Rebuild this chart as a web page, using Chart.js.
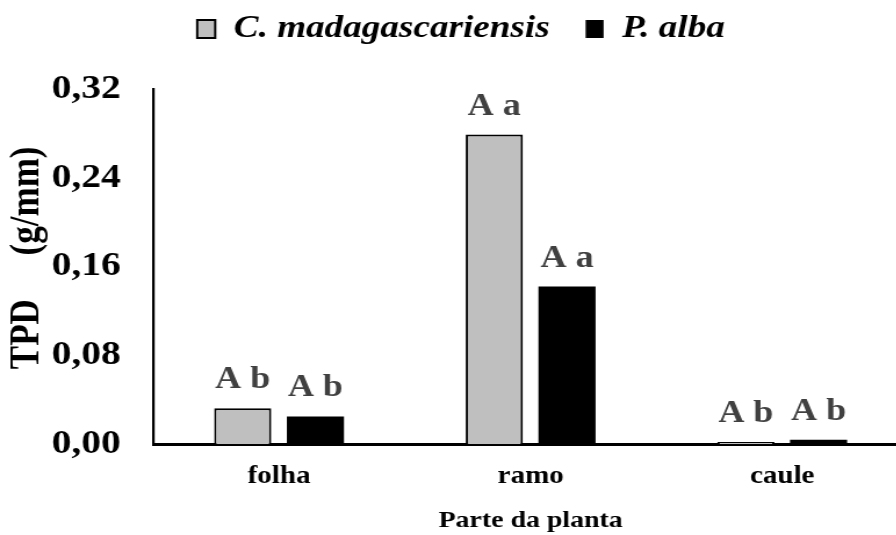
<!DOCTYPE html>
<html>
<head>
<meta charset="utf-8">
<script src="https://cdn.jsdelivr.net/npm/chart.js@4/dist/chart.umd.min.js"></script>
<style>
  html, body { margin: 0; padding: 0; background: #ffffff; overflow: hidden; }
  #wrap { width: 896px; height: 535px; overflow: hidden; position: relative; }
  #c { display: block; width: 907.6px; height: 535px; }
</style>
</head>
<body>
<div id="wrap"><canvas id="c" width="782" height="535" style="width:907.6px;height:535px;"></canvas></div>
<script>
const categories = ['folha', 'ramo', 'caule'];
const seriesNames = ['C. madagascariensis', 'P. alba'];
const valuesC = [0.0325, 0.279, 0.002];
const valuesP = [0.025, 0.142, 0.004];
const lettersC = ['A b', 'A a', 'A b'];
const lettersP = ['A b', 'A a', 'A b'];
const yTicks = [0, 0.08, 0.16, 0.24, 0.32];
const yTitle = '  TPD     (g/mm)';
const xTitle = 'Parte da planta';

const serif = "'Liberation Serif', 'Times New Roman', serif";

const letterPlugin = {
  id: 'letters',
  afterDatasetsDraw(chart) {
    const ctx = chart.ctx;
    const sets = [lettersC, lettersP];
    ctx.save();
    ctx.font = 'bold 31px ' + serif;
    ctx.fillStyle = '#404040';
    ctx.textAlign = 'center';
    ctx.textBaseline = 'alphabetic';
    chart.data.datasets.forEach((ds, di) => {
      const meta = chart.getDatasetMeta(di);
      meta.data.forEach((bar, i) => {
        ctx.fillText(sets[di][i], bar.x, bar.y - 20);
      });
    });
    ctx.restore();
  }
};

const legendSpace = {
  id: 'legendSpace',
  beforeLayout(chart) {
    const lg = chart.legend;
    if (lg && !lg._spacePatched) {
      const orig = lg.fit.bind(lg);
      lg.fit = function () { orig(); this.height += 34; };
      lg._spacePatched = true;
    }
  }
};

new Chart(document.getElementById('c'), {
  type: 'bar',
  data: {
    labels: categories,
    datasets: [
      {
        label: seriesNames[0],
        data: valuesC,
        backgroundColor: '#bfbfbf',
        borderColor: '#000000',
        borderWidth: 2,
        categoryPercentage: 0.578,
        barPercentage: 0.786
      },
      {
        label: seriesNames[1],
        data: valuesP,
        backgroundColor: '#000000',
        borderColor: '#000000',
        borderWidth: 0,
        categoryPercentage: 0.578,
        barPercentage: 0.786
      }
    ]
  },
  options: {
    responsive: false,
    maintainAspectRatio: false,
    animation: false,
    layout: { padding: { left: 12, right: 0, top: -18, bottom: 0 } },
    plugins: {
      legend: {
        display: true,
        position: 'top',
        labels: {
          boxWidth: 15.5,
          boxHeight: 18,
          padding: 31,
          color: '#000000',
          font: { family: serif, size: 32, style: 'italic', weight: 'bold' }
        }
      },
      tooltip: { enabled: false }
    },
    scales: {
      x: {
        grid: { display: false, drawTicks: false },
        border: { display: true, color: '#000000', width: 3 },
        ticks: {
          color: '#000000',
          padding: 20,
          font: { family: serif, size: 25, weight: 'bold', lineHeight: 1.0 }
        },
        title: {
          display: true,
          text: xTitle,
          color: '#000000',
          padding: { top: 0, bottom: 1.8 },
          font: { family: serif, size: 24, weight: 'bold', lineHeight: 1.0 }
        }
      },
      y: {
        min: 0,
        max: 0.32,
        afterFit(scale) { scale.width = 120; },
        afterBuildTicks(scale) { scale.ticks = yTicks.map(v => ({ value: v })); },
        grid: { display: false, drawTicks: false },
        border: { display: true, color: '#000000', width: 2.2 },
        ticks: {
          color: '#000000',
          padding: 28,
          font: { family: serif, size: 34, weight: 'bold' },
          callback: (v) => Number(v).toFixed(2).replace('.', ',')
        },
        title: {
          display: true,
          text: yTitle,
          color: '#000000',
          padding: { top: 3, bottom: 0 },
          font: { family: serif, size: 35, weight: 'bold', lineHeight: 0.5 }
        }
      }
    }
  },
  plugins: [letterPlugin, legendSpace]
});
</script>
</body>
</html>
